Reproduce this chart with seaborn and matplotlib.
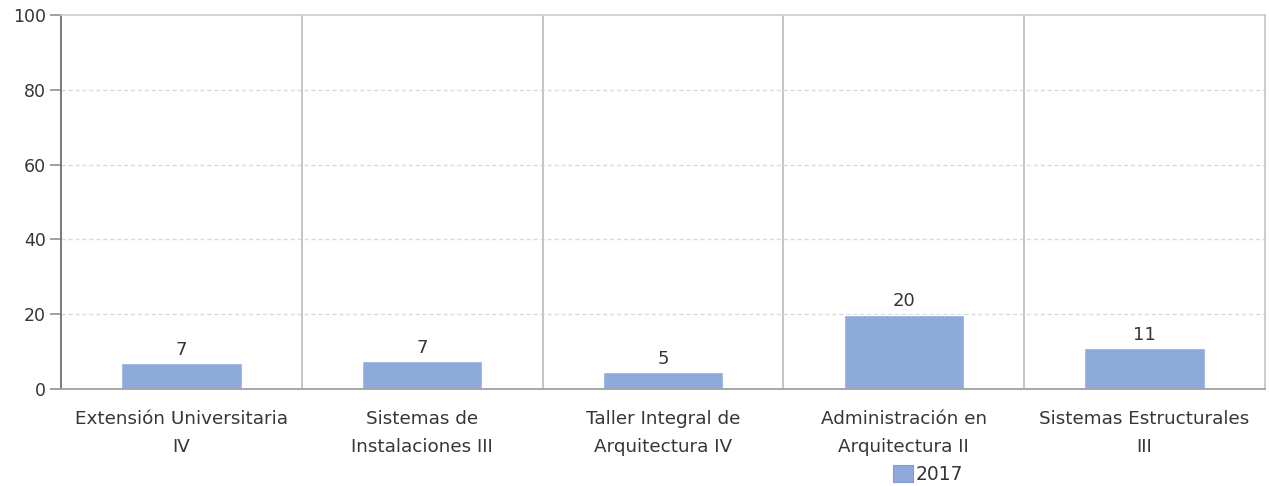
import pandas as pd
import matplotlib
matplotlib.use("Agg")
import matplotlib.pyplot as plt
import seaborn as sns

# ---- data ----
categories = [
    "Extensión Universitaria\nIV",
    "Sistemas de\nInstalaciones III",
    "Taller Integral de\nArquitectura IV",
    "Administración en\nArquitectura II",
    "Sistemas Estructurales\nIII",
]
values = [6.9, 7.4, 4.6, 19.9, 10.9]
series_name = "2017"
y_ticks = [0, 20, 40, 60, 80, 100]

bar_color = "#8eaadb"
text_color = "#363636"

sns.set_style("white")
plt.rcParams["font.family"] = ["DejaVu Sans"]

df = pd.DataFrame({"curso": categories, "valor": values, "anio": series_name})

fig = plt.figure(figsize=(12.69, 4.86), dpi=100)
ax = fig.add_axes([61 / 1269, 1 - 389 / 486, (1265 - 61) / 1269, (389 - 15) / 486])

sns.barplot(
    data=df, x="curso", y="valor", hue="anio",
    palette=[bar_color], width=0.5, saturation=1, ax=ax, legend=False
)

ax.set_ylim(0, 100)
ax.set_xlim(-0.5, len(categories) - 0.5)
ax.set_yticks(y_ticks)
ax.set_xlabel("")
ax.set_ylabel("")

# horizontal dashed grid
for y in y_ticks[1:-1]:
    ax.axhline(y, color="#dadada", lw=1, ls=(0, (3, 2)), zorder=0)
# vertical separators between categories
for k in range(1, len(categories)):
    ax.axvline(k - 0.5, color="#c0c0c0", lw=1.3, zorder=0)

# value labels
for cont in ax.containers:
    ax.bar_label(cont, fmt="%.0f", padding=3, fontsize=13, color=text_color)

ax.spines["top"].set_color("#cccccc")
ax.spines["top"].set_linewidth(1.2)
ax.spines["right"].set_color("#c8c8c8")
ax.spines["right"].set_linewidth(1.3)
ax.spines["left"].set_color("#707070")
ax.spines["left"].set_linewidth(1.3)
ax.spines["bottom"].set_color("#a0a0a0")
ax.spines["bottom"].set_linewidth(1.3)

ax.tick_params(axis="y", left=True, length=8, width=1.2, color="#909090", pad=3,
               labelsize=12.5, labelcolor=text_color)
ax.tick_params(axis="x", bottom=False, length=0, pad=15, labelsize=13.2,
               labelcolor=text_color)
for lbl in ax.get_xticklabels():
    lbl.set_linespacing(1.75)

# legend under the chart
handle = plt.Rectangle((0, 0), 1, 1, facecolor=bar_color, edgecolor="#7f9bd0", lw=0.8)
fig.legend([handle], [series_name], loc="center", bbox_to_anchor=(0.7313, 0.024),
           frameon=False, handlelength=1.07, handleheight=1.0, handletextpad=0.16,
           borderpad=0.1, fontsize=13.5, labelcolor=text_color)

fig.savefig("out.png", dpi=100)
